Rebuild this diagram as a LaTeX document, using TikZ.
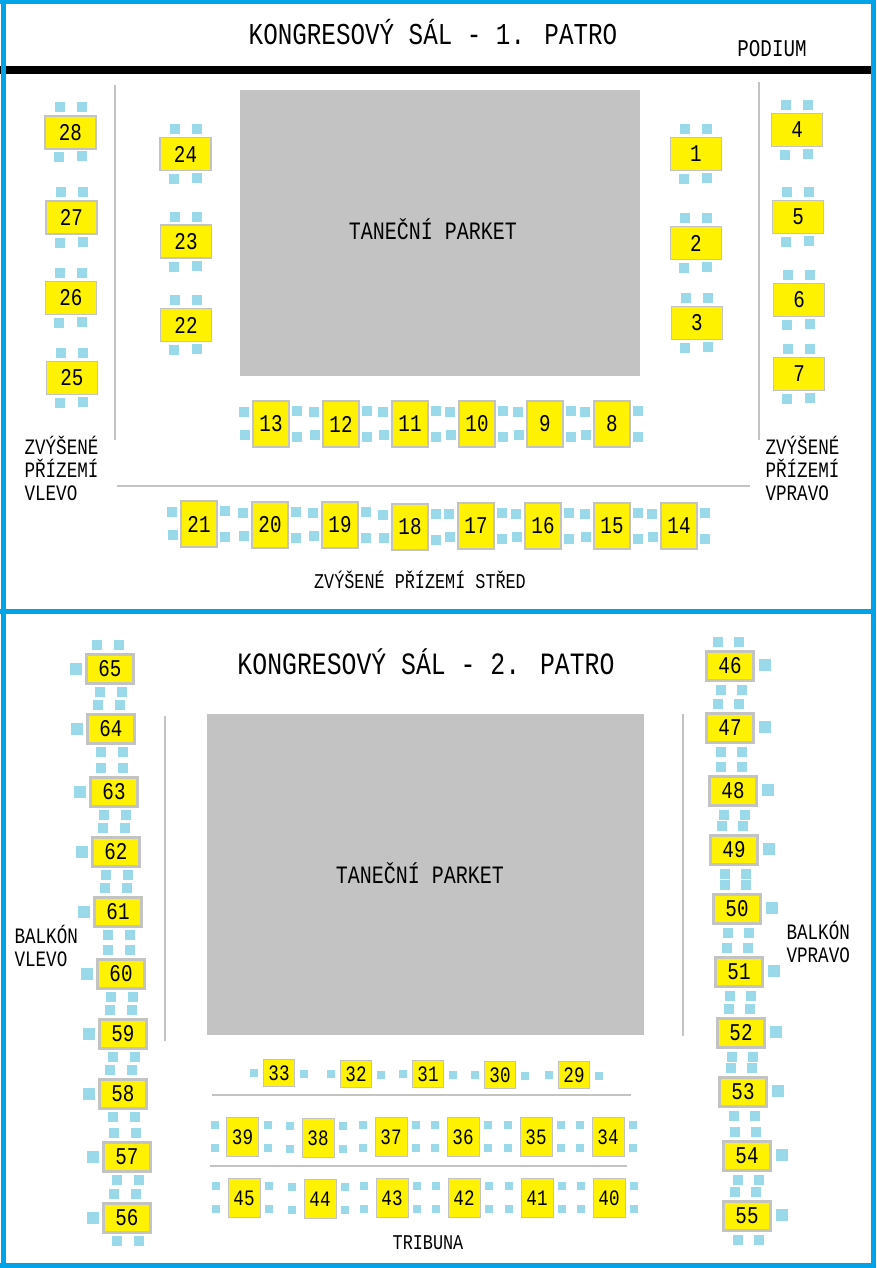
\documentclass[tikz,border=0pt]{standalone}
\usepackage{fontspec}
\usetikzlibrary{positioning}
\newfontfamily\lcdfont[FakeStretch=0.8]{Liberation Mono}
\newcommand{\lcdsize}[1]{\lcdfont\fontsize{#1}{23}\selectfont}
\definecolor{hallblue}{HTML}{00A2E8}
\definecolor{tableyellow}{HTML}{FFF200}
\definecolor{floorgray}{HTML}{C3C3C3}
\definecolor{chairblue}{HTML}{99D9EA}

\begin{document}
\begin{tikzpicture}[
    x=1pt, y=-1pt,
    floorbox/.style={rectangle, fill=floorgray, inner sep=0pt},
    tablebox/.style={rectangle, draw=floorgray, fill=tableyellow, line width=1.5pt, inner sep=0pt, font=\lcdsize{24}},
    tablewide/.style={tablebox, minimum width=51pt, minimum height=33pt},
    tabletall/.style={tablebox, minimum width=36pt, minimum height=46pt},
    tableside/.style={tablebox, line width=2.5pt, minimum width=47pt, minimum height=29pt},
    tablesmall/.style={tablebox, line width=1pt, minimum width=31pt, minimum height=27pt, font=\lcdsize{22}},
    tablerow/.style={tablebox, line width=1pt, minimum width=32pt, minimum height=39pt, font=\lcdsize{22}},
    chair/.style={rectangle, fill=chairblue, inner sep=0pt, minimum size=10pt},
    chairsmall/.style={chair, minimum size=8pt},
    chairlarge/.style={chair, minimum size=12pt},
    wall/.style={floorgray, line width=2pt},
    title/.style={font=\lcdsize{31}},
    label/.style={font=\lcdsize{22}, align=left}
]
\useasboundingbox (0,0) rectangle (876,1268);

% Frame
\fill[black] (0,66) rectangle (871,74);
\fill[hallblue] (0,0) rectangle (876,4);
\fill[hallblue] (1,0) rectangle (6,1268);
\fill[hallblue] (871,0) rectangle (876,1268);
\fill[hallblue] (0,609) rectangle (876,614);
\fill[hallblue] (0,1263) rectangle (876,1268);

% First floor
\node[title, font=\lcdsize{30.3}] (title1) at (433,32) {KONGRESOVÝ SÁL - 1. PATRO};
\node[label, font=\lcdsize{24}] (podium) at (772,49) {PODIUM};
\node[floorbox, minimum width=400pt, minimum height=286pt] (floor1) at (440,233) {};
\node[label, font=\lcdsize{25}] (floorlabel1) at (433,229) {TANEČNÍ PARKET};
\draw[wall] (115,85) -- (115,440);
\draw[wall] (759,82) -- (759,440);
\draw[wall] (117,486) -- (750,486);
\node[label, anchor=north west] (leftlabel) at (21,433) {ZVÝŠENÉ\\PŘÍZEMÍ\\VLEVO};
\node[label, anchor=north west] (rightlabel) at (762,433) {ZVÝŠENÉ\\PŘÍZEMÍ\\VPRAVO};
\node[label, font=\lcdsize{21}] (midlabel) at (420,580) {ZVÝŠENÉ PŘÍZEMÍ STŘED};

% Tables with chairs above and below
\foreach \num/\x/\y in {28/70.5/132.5, 27/71.5/217.5, 26/71/298, 25/72/378,
    24/185.5/154, 23/186/241.5, 22/186/325,
    1/696/154, 2/696/243, 3/697/323,
    4/797/130, 5/798/217, 6/799/300, 7/799/374} {
  \node[tablewide] (t\num) at (\x,\y) {\num};
  \node[chair] (c\num a) at ([shift={(-11,-25)}]t\num.center) {};
  \node[chair] (c\num b) at ([shift={(11,-25)}]t\num.center) {};
  \node[chair] (c\num c) at ([shift={(-12,25)}]t\num.center) {};
  \node[chair] (c\num d) at ([shift={(11,24)}]t\num.center) {};
}

% Tables with chairs left and right
\foreach \num/\x/\y in {13/271/424, 12/341/424, 11/410/424, 10/477/424, 9/545/424, 8/612/424,
    21/199/524, 20/270/525, 19/340/525, 18/410/527, 17/476/526, 16/543/526, 15/612/526, 14/679/526} {
  \node[tabletall] (t\num) at (\x,\y) {\num};
  \node[chair] (c\num a) at ([shift={(-27,-12)}]t\num.center) {};
  \node[chair] (c\num b) at ([shift={(-26,11)}]t\num.center) {};
  \node[chair] (c\num c) at ([shift={(26,-13)}]t\num.center) {};
  \node[chair] (c\num d) at ([shift={(26,13)}]t\num.center) {};
}

% Second floor
\node[title] (title2) at (426,662) {KONGRESOVÝ SÁL - 2. PATRO};
\node[floorbox, minimum width=437pt, minimum height=321pt] (floor2) at (425.5,874.5) {};
\node[label, font=\lcdsize{25}] (floorlabel2) at (420,873) {TANEČNÍ PARKET};
\draw[wall] (165,716) -- (165,1041);
\draw[wall] (683,714) -- (683,1036);
\draw[wall] (212,1095) -- (631,1095);
\draw[wall] (210,1166) -- (627,1166);
\node[label, anchor=north west] (balkonleft) at (11,922) {BALKÓN\\VLEVO};
\node[label, anchor=north west] (balkonright) at (783,918) {BALKÓN\\VPRAVO};
\node[label, font=\lcdsize{21}] (tribuna) at (428,1243) {TRIBUNA};

% Balcony left
\foreach \num/\x/\y in {65/110/669, 64/111/729, 63/114/792, 62/116/852, 61/118/912,
    60/121/974, 59/123/1034, 58/123/1094, 57/127/1157, 56/127/1218} {
  \node[tableside] (t\num) at (\x,\y) {\num};
  \node[chairlarge] (c\num a) at ([shift={(-34,0)}]t\num.center) {};
  \node[chair] (c\num b) at ([shift={(-13,-24)}]t\num.center) {};
  \node[chair] (c\num c) at ([shift={(9,-24)}]t\num.center) {};
  \node[chair] (c\num d) at ([shift={(-10,23)}]t\num.center) {};
  \node[chair] (c\num e) at ([shift={(12,23)}]t\num.center) {};
}

% Balcony right
\foreach \num/\x/\y in {46/730/666, 47/730/728, 48/733/791, 49/734/850, 50/737/909,
    51/739/972, 52/741/1033, 53/743/1092, 54/747/1156, 55/747/1216} {
  \node[tableside] (t\num) at (\x,\y) {\num};
  \node[chairlarge] (c\num a) at ([shift={(35,-1)}]t\num.center) {};
  \node[chair] (c\num b) at ([shift={(-12,-24)}]t\num.center) {};
  \node[chair] (c\num c) at ([shift={(9,-24)}]t\num.center) {};
  \node[chair] (c\num d) at ([shift={(-9,24)}]t\num.center) {};
  \node[chair] (c\num e) at ([shift={(12,24)}]t\num.center) {};
}

% Row by the floor
\foreach \num/\x/\y in {33/279/1073, 32/356/1074, 31/428/1074, 30/500/1075, 29/574/1075} {
  \node[tablesmall] (t\num) at (\x,\y) {\num};
  \node[chairsmall] (c\num a) at ([shift={(-25,0)}]t\num.center) {};
  \node[chairsmall] (c\num b) at ([shift={(25,1)}]t\num.center) {};
}

% Tribune
\foreach \num/\x/\y in {39/242.5/1137, 38/318/1138, 37/391/1137, 36/463/1137, 35/536/1137, 34/608/1137,
    45/244/1198, 44/320/1199, 43/392/1198, 42/464/1198, 41/537/1198, 40/609/1198} {
  \node[tablerow] (t\num) at (\x,\y) {\num};
  \node[chairsmall] (c\num a) at ([shift={(-28,-12)}]t\num.center) {};
  \node[chairsmall] (c\num b) at ([shift={(-28,11)}]t\num.center) {};
  \node[chairsmall] (c\num c) at ([shift={(25,-12)}]t\num.center) {};
  \node[chairsmall] (c\num d) at ([shift={(25,11)}]t\num.center) {};
}

\end{tikzpicture}
\end{document}
